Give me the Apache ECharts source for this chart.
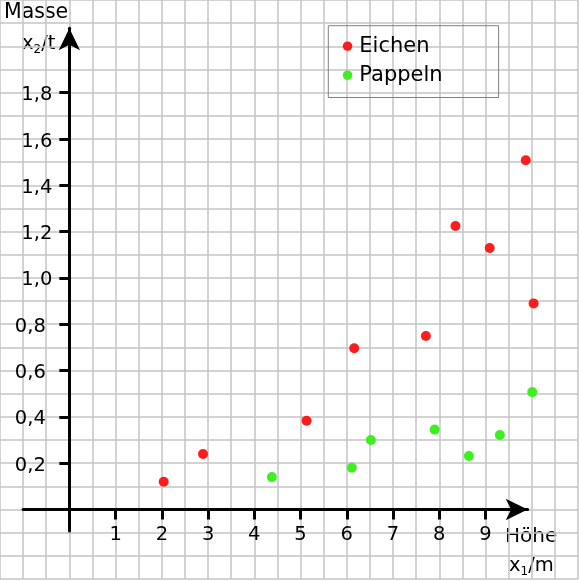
<!DOCTYPE html>
<html>
<head>
<meta charset="utf-8">
<script src="https://cdn.jsdelivr.net/npm/echarts@6/dist/echarts.min.js"></script>
<style>
html,body{margin:0;padding:0;background:#fff;}
#c{width:579px;height:582px;}
</style>
</head>
<body>
<div id="c"></div>
<script>
const eichenX = [2.04, 2.89, 5.13, 6.16, 7.71, 8.35, 9.09, 9.87, 10.04];
const eichenY = [0.12, 0.24, 0.383, 0.696, 0.749, 1.224, 1.129, 1.508, 0.89];
const pappelnX = [4.38, 6.11, 6.52, 7.90, 8.64, 9.31, 10.01];
const pappelnY = [0.14, 0.18, 0.30, 0.345, 0.231, 0.322, 0.507];
const xTicks = [1, 2, 3, 4, 5, 6, 7, 8, 9];
const yTicks = [0.2, 0.4, 0.6, 0.8, 1.0, 1.2, 1.4, 1.6, 1.8];
const seriesNames = ['Eichen', 'Pappeln'];

const FONT = 'DejaVu Sans';
const chart = echarts.init(document.getElementById('c'));
const zip = (xs, ys) => xs.map((x, i) => [x, ys[i]]);
const hidden = {axisLine: {show: false}, axisTick: {show: false}, axisLabel: {show: false}, splitLine: {show: false}};
const axisLineStyle = {show: true, onZero: true, symbol: ['none', 'arrow'], symbolSize: [16, 22],
  lineStyle: {color: '#000', width: 3}};

chart.setOption({
  backgroundColor: '#fff',
  animation: false,
  grid: [
    {left: 0, right: 1, top: 0, bottom: 3, outerBoundsMode: 'none'},
    {left: 23.12, right: 51.3, top: 28.3, bottom: 51, outerBoundsMode: 'none'},
    {left: 69.36, right: 1, top: 0, bottom: 72.5, outerBoundsMode: 'none'}
  ],
  xAxis: [
    Object.assign({gridIndex: 0, type: 'value', min: -1.5, max: 11, interval: 0.5}, hidden,
      {splitLine: {show: true, lineStyle: {color: '#c4c4c4', width: 1.5}}}),
    Object.assign({gridIndex: 1, type: 'value', min: -1, max: 9.912}, hidden, {axisLine: axisLineStyle}),
    Object.assign({gridIndex: 2, type: 'value', min: 0, max: 11}, hidden, {
      axisTick: {show: true, inside: false, length: 10, customValues: xTicks,
        lineStyle: {color: '#000', width: 3}},
      axisLabel: {show: true, customValues: xTicks, margin: 15, color: '#000',
        fontFamily: FONT, fontSize: 19.5}})
  ],
  yAxis: [
    Object.assign({gridIndex: 0, type: 'value', min: -0.3, max: 2.2, interval: 0.1}, hidden,
      {splitLine: {show: true, lineStyle: {color: '#c4c4c4', width: 1.5}}}),
    Object.assign({gridIndex: 1, type: 'value', min: -0.0928, max: 2.0777}, hidden, {axisLine: axisLineStyle}),
    Object.assign({gridIndex: 2, type: 'value', min: 0, max: 2.2}, hidden, {
      axisTick: {show: true, inside: false, length: 10, customValues: yTicks,
        lineStyle: {color: '#000', width: 3}},
      axisLabel: {show: true, customValues: yTicks, margin: 17, color: '#000',
        fontFamily: FONT, fontSize: 19.5, padding: [5, 0, 0, 0],
        formatter: v => {
          const t = v.toFixed(1).replace('.', ',');
          return v < 1 ? '{s|' + t + '}' : t;
        },
        rich: {s: {fontFamily: FONT, fontSize: 19.5, color: '#000', padding: [0, 6.5, 0, 0]}}}})
  ],
  legend: {
    left: 328.3, top: 25.7, orient: 'vertical',
    padding: [10, 56, 11.8, 14.5],
    itemGap: 8, itemWidth: 9.5, itemHeight: 9.5, icon: 'circle',
    borderColor: '#808080', borderWidth: 1,
    textStyle: {fontFamily: FONT, fontSize: 21, color: '#000', padding: [0, 0, 0, 2]},
    data: seriesNames
  },
  graphic: [
    {type: 'text', left: 4, top: 2, style: {text: 'Masse', font: '20.5px "DejaVu Sans"', fill: '#000'}},
    {type: 'text', x: 22, y: 34, style: {
      text: '{a|x}{b|2}{a|/t}', fill: '#000',
      rich: {a: {fontFamily: FONT, fontSize: 19.5, lineHeight: 22, verticalAlign: 'top'},
             b: {fontFamily: FONT, fontSize: 12, lineHeight: 12, verticalAlign: 'bottom'}}}},
    {type: 'text', x: 505, y: 527, style: {text: 'Höhe', font: '20px "DejaVu Sans"', fill: '#000'}},
    {type: 'text', x: 509, y: 556, style: {
      text: '{a|x}{b|1}{a|/m}', fill: '#000',
      rich: {a: {fontFamily: FONT, fontSize: 19.5, lineHeight: 22, verticalAlign: 'top'},
             b: {fontFamily: FONT, fontSize: 12, lineHeight: 12, verticalAlign: 'bottom'}}}}
  ],
  series: [
    {name: seriesNames[0], type: 'scatter', xAxisIndex: 0, yAxisIndex: 0, symbolSize: 10,
     itemStyle: {color: '#ff1c1c', opacity: 1}, data: zip(eichenX, eichenY)},
    {name: seriesNames[1], type: 'scatter', xAxisIndex: 0, yAxisIndex: 0, symbolSize: 10,
     itemStyle: {color: '#3ff020', opacity: 1}, data: zip(pappelnX, pappelnY)}
  ]
});
</script>
</body>
</html>
